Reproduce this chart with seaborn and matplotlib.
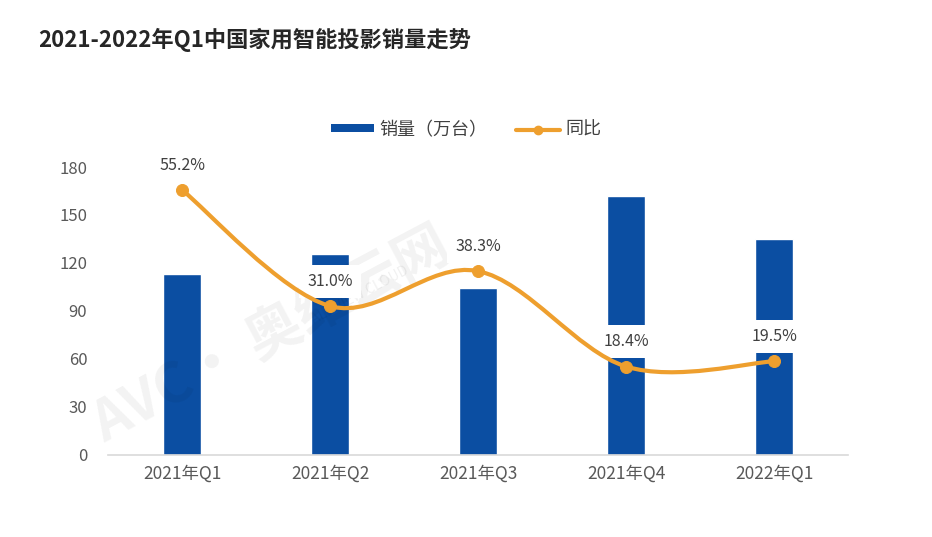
import numpy as np
import pandas as pd
import seaborn as sns
import matplotlib
matplotlib.use("Agg")
import matplotlib.pyplot as plt
from matplotlib.path import Path
from matplotlib.patches import PathPatch, Patch
from matplotlib.lines import Line2D

quarters = ["2021年Q1", "2021年Q2", "2021年Q3", "2021年Q4", "2022年Q1"]
sales = [113, 125.5, 104.5, 162, 135]          # 销量（万台）
yoy = [55.2, 31.0, 38.3, 18.4, 19.5]           # 同比 (%)
yoy_labels = ["55.2%", "31.0%", "38.3%", "18.4%", "19.5%"]

BLUE = "#0B4EA2"
ORANGE = "#EE9F2E"
GREY = "#595959"


def smooth_path(xs, ys):
  # catmull-rom style bezier through the points, like excel's smoothed line
  pts = np.column_stack([xs, ys]).astype(float)
  verts = [tuple(pts[0])]
  codes = [Path.MOVETO]
  n = len(pts)
  for i in range(n - 1):
    p0 = pts[i - 1] if i > 0 else pts[i]
    p1 = pts[i]
    p2 = pts[i + 1]
    p3 = pts[i + 2] if i + 2 < n else pts[i + 1]
    c1 = p1 + (p2 - p0) / 6.0
    c2 = p2 - (p3 - p1) / 6.0
    verts += [tuple(c1), tuple(c2), tuple(p2)]
    codes += [Path.CURVE4] * 3
  return Path(verts, codes)


def main():
  sns.set_style("white")
  plt.rcParams['font.family'] = ['Noto Sans CJK SC', 'DejaVu Sans']

  df = pd.DataFrame({"季度": quarters, "销量": sales, "同比": yoy})

  fig = plt.figure(figsize=(9.32, 5.37), dpi=100)
  ax = fig.add_axes([0.116, 0.153, 0.794, 0.536])

  sns.barplot(data=df, x="季度", y="销量", color=BLUE, saturation=1,
              width=0.26, ax=ax, zorder=2)
  ax.set_xlim(-0.5, 4.5)
  ax.set_ylim(0, 180)
  ax.set_yticks(range(0, 181, 30))
  ax.set_xlabel("")
  ax.set_ylabel("")
  ax.tick_params(axis="both", length=0, labelsize=12, labelcolor=GREY)
  ax.tick_params(axis="y", pad=15)
  ax.tick_params(axis="x", pad=7, labelsize=12.5)
  for s in ["top", "right", "left"]:
    ax.spines[s].set_visible(False)
  ax.spines["bottom"].set_color("#D9D9D9")
  ax.spines["bottom"].set_linewidth(1.2)

  # watermark
  ax.text(0.6, 75, "AVC· 奥维云网", fontsize=40, fontweight="bold",
          color="#000000", alpha=0.05, rotation=28, ha="center", va="center",
          zorder=5)
  ax.text(1.2, 100, "ALL VIEW CLOUD", fontsize=10, color="#000000",
          alpha=0.06, rotation=28, ha="center", va="center", zorder=5)

  ax2 = ax.twinx()
  ax2.set_ylim(0, 60)
  ax2.axis("off")
  xs = np.arange(len(quarters))
  for x, v, lab in zip(xs, yoy, yoy_labels):
    ax2.annotate(lab, (x, v), xytext=(0, 18), textcoords="offset points",
                 ha="center", va="center", fontsize=11.5, color="#404040",
                 bbox=dict(boxstyle="square,pad=0.5", fc="white", ec="none"),
                 zorder=2)
  ax2.add_patch(PathPatch(smooth_path(xs, df["同比"]), facecolor="none",
                          edgecolor=ORANGE, lw=3, capstyle="round", zorder=3))
  sns.scatterplot(x=xs, y=df["同比"], color=ORANGE, s=75, edgecolor=ORANGE,
                  ax=ax2, zorder=4, legend=False)

  handles = [Patch(facecolor=BLUE, edgecolor="none"),
             Line2D([], [], color=ORANGE, lw=3, marker="o", markersize=6)]
  fig.legend(handles, ["销量（万台）", "同比"], loc="center",
             bbox_to_anchor=(0.50, 0.758), ncol=2, frameon=False,
             fontsize=13, handlelength=2.4, handleheight=0.3,
             columnspacing=1.6, handletextpad=0.3, labelcolor="#404040")

  fig.text(0.041, 0.925, "2021-2022年Q1中国家用智能投影销量走势", fontsize=16,
           fontweight="bold", color="#262626", ha="left", va="center")

  fig.savefig("out.png", dpi=100)


if __name__ == '__main__':
  main()
